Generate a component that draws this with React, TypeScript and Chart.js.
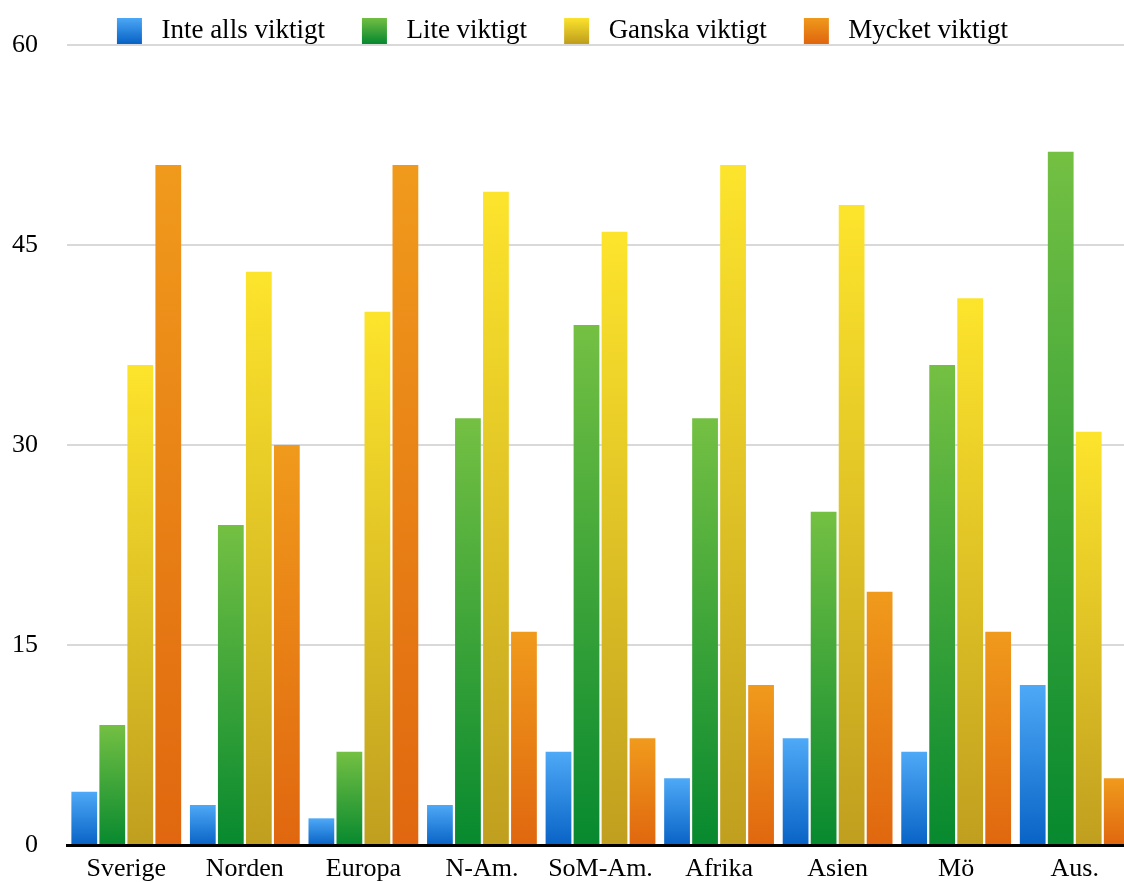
import React, { useEffect, useRef } from "react";
import { Chart, registerables } from "chart.js";

Chart.register(...registerables);

const categories = ["Sverige", "Norden", "Europa", "N-Am.", "SoM-Am.", "Afrika", "Asien", "Mö", "Aus."];
const seriesNames = ["Inte alls viktigt", "Lite viktigt", "Ganska viktigt", "Mycket viktigt"];
const inteAllsViktigt = [4, 3, 2, 3, 7, 5, 8, 7, 12];
const liteViktigt = [9, 24, 7, 32, 39, 32, 25, 36, 52];
const ganskaViktigt = [36, 43, 40, 49, 46, 51, 48, 41, 31];
const mycketViktigt = [51, 30, 51, 16, 8, 12, 19, 16, 5];
const yTickValues = [0, 15, 30, 45, 60];

const topColors = ["#4ea9f7", "#74c043", "#fde42c", "#f09a1c"];
const bottomColors = ["#0863c6", "#07892f", "#c09f1f", "#e0670f"];

const FONT = '"Liberation Serif", "Times New Roman", serif';

function makeSwatch(i: number): HTMLCanvasElement {
  const c = document.createElement("canvas");
  c.width = 51;
  c.height = 26;
  const g = c.getContext("2d")!;
  const gr = g.createLinearGradient(0, 0, 0, 26);
  gr.addColorStop(0, topColors[i]);
  gr.addColorStop(1, bottomColors[i]);
  g.fillStyle = gr;
  g.fillRect(20, 0, 25, 26);
  return c;
}

function barGradient(i: number) {
  return (ctx: any) => {
    const chart = ctx.chart;
    if (ctx.type !== "data" || !chart.chartArea || !chart.scales.y) return topColors[i];
    const y = chart.scales.y;
    const top = y.getPixelForValue(ctx.raw);
    const base = y.getPixelForValue(0);
    if (!isFinite(top) || !isFinite(base) || Math.abs(base - top) < 1) return topColors[i];
    const gr = chart.ctx.createLinearGradient(0, top, 0, base);
    gr.addColorStop(0, topColors[i]);
    gr.addColorStop(1, bottomColors[i]);
    return gr;
  };
}

const legendPlacement = {
  id: "legendPlacement",
  afterLayout(chart: any) {
    if (chart.legend) {
      chart.legend.left = 0;
      chart.legend.right = 1105;
    }
  },
};

export default function App() {
  const ref = useRef<HTMLCanvasElement>(null);

  useEffect(() => {
    if (!ref.current) return;
    const seriesData = [inteAllsViktigt, liteViktigt, ganskaViktigt, mycketViktigt];
    const swatches = seriesData.map((_, i) => makeSwatch(i));
    const chart = new Chart(ref.current, {
      type: "bar",
      data: {
        labels: categories,
        datasets: seriesData.map((d, i) => ({
          label: seriesNames[i],
          data: d,
          backgroundColor: barGradient(i),
          borderWidth: 0,
          categoryPercentage: 0.945,
          barPercentage: 0.92,
        })),
      },
      options: {
        responsive: false,
        animation: false,
        devicePixelRatio: 1,
        layout: { padding: 0 },
        plugins: {
          tooltip: { enabled: false },
          legend: {
            position: "top",
            maxHeight: 45,
            labels: {
              usePointStyle: true,
              pointStyleWidth: 51,
              padding: 17,
              color: "#000",
              font: { family: FONT, size: 27 },
              generateLabels: () =>
                seriesNames.map((name, i) => ({
                  text: name,
                  fillStyle: topColors[i],
                  strokeStyle: "rgba(0,0,0,0)",
                  lineWidth: 0,
                  hidden: false,
                  datasetIndex: i,
                  pointStyle: swatches[i],
                  fontColor: "#000",
                })),
            },
          },
        },
        scales: {
          x: {
            grid: { display: false, drawTicks: false },
            border: { display: true, color: "#000", width: 3 },
            ticks: {
              color: "#000",
              font: { family: FONT, size: 26 },
              padding: 9,
              maxRotation: 0,
              autoSkip: false,
            },
            afterFit: (s: any) => {
              s.height = 55;
            },
          },
          y: {
            min: 0,
            max: 60,
            grid: { color: "#d9d9d9", lineWidth: 2, drawTicks: false },
            border: { display: false },
            ticks: {
              color: "#000",
              font: { family: FONT, size: 26 },
              padding: 29,
            },
            afterBuildTicks: (s: any) => {
              s.ticks = yTickValues.map((v) => ({ value: v }));
            },
            afterFit: (s: any) => {
              s.width = 67;
            },
          },
        },
      },
      plugins: [legendPlacement],
    });
    return () => chart.destroy();
  }, []);

  return (
    <div
      style={{
        position: "fixed",
        left: 0,
        top: 0,
        width: 1124,
        height: 882,
        overflow: "hidden",
        background: "#fff",
      }}
    >
      <canvas ref={ref} width={1134} height={900} style={{ display: "block" }} />
    </div>
  );
}
